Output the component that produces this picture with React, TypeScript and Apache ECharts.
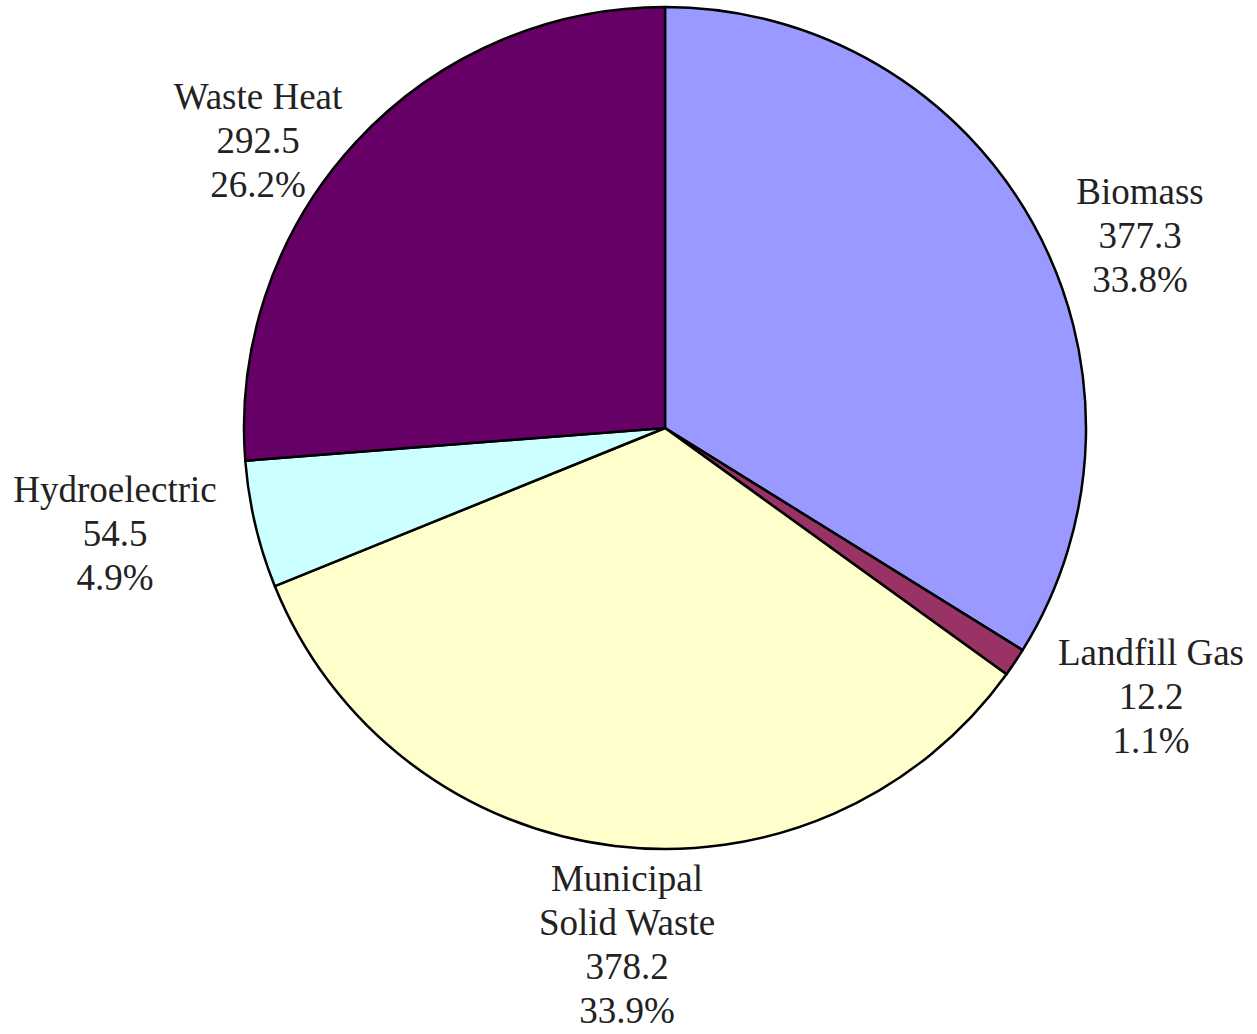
import React, { useEffect, useRef } from "react";
import * as echarts from "echarts";

const categories = ["Biomass", "Landfill Gas", "Municipal\nSolid Waste", "Hydroelectric", "Waste Heat"];
const values = [377.3, 12.2, 378.2, 54.5, 292.5];
const colors = ["#9999FF", "#993366", "#FFFFCC", "#CCFFFF", "#660066"];
// label block centers (px in chart)
const labelX = [1140, 1151, 627, 115, 258];
const labelY = [235, 696, 944, 533, 140];

export default function App() {
  const ref = useRef<HTMLDivElement>(null);
  useEffect(() => {
    document.body.style.margin = "0";
    const chart = echarts.init(ref.current!, null, { renderer: "svg" });
    const total = values.reduce((a, b) => a + b, 0);
    chart.setOption({
      animation: false,
      backgroundColor: "#ffffff",
      series: [
        {
          type: "pie",
          center: [665, 428],
          radius: 421,
          startAngle: 90,
          clockwise: true,
          silent: true,
          avoidLabelOverlap: false,
          itemStyle: { borderColor: "#000000", borderWidth: 2.5 },
          label: {
            show: true,
            position: "outside",
            fontFamily: "Liberation Serif",
            fontSize: 37,
            lineHeight: 44,
            color: "#222222",
            align: "center",
            formatter: (p: any) =>
              `${p.name}\n${p.value.toFixed(1)}\n${((p.value / total) * 100).toFixed(1)}%`,
          },
          labelLine: { show: false },
          labelLayout: (params: any) => ({
            x: labelX[params.dataIndex],
            y: labelY[params.dataIndex],
            align: "center",
            verticalAlign: "middle",
          }),
          data: categories.map((name, i) => ({
            name,
            value: values[i],
            itemStyle: { color: colors[i] },
          })),
        },
      ],
    });
    return () => chart.dispose();
  }, []);
  return <div ref={ref} style={{ width: 1257, height: 1034 }} />;
}
